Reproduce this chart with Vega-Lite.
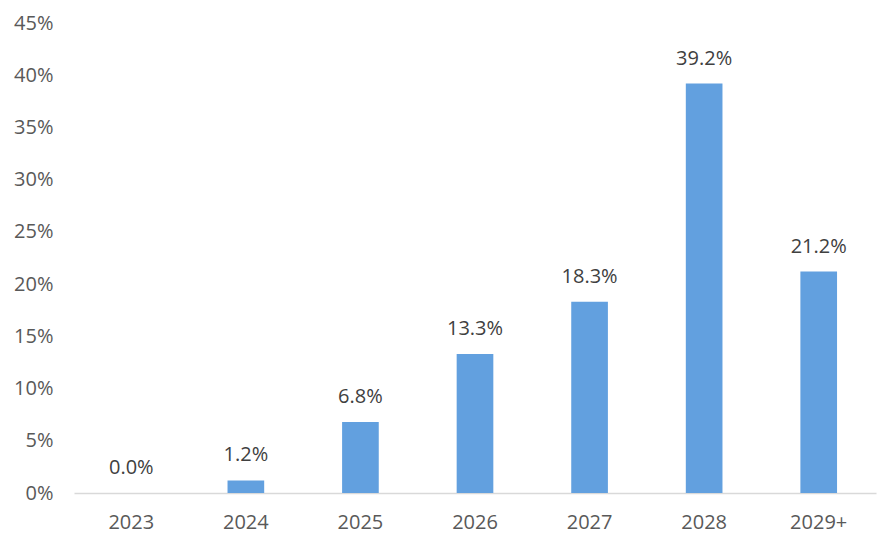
{
  "$schema": "https://vega.github.io/schema/vega-lite/v6.json",
  "width": 802,
  "height": 470,
  "autosize": {"type": "none"},
  "padding": {"left": 74, "top": 23, "right": 20, "bottom": 57},
  "background": "white",
  "config": {"view": {"stroke": null}, "font": "Open Sans"},
  "data": {"values": [
    {"year": "2023", "value": 0.0},
    {"year": "2024", "value": 0.012},
    {"year": "2025", "value": 0.068},
    {"year": "2026", "value": 0.133},
    {"year": "2027", "value": 0.183},
    {"year": "2028", "value": 0.392},
    {"year": "2029+", "value": 0.212}
  ]},
  "encoding": {
    "x": {"field": "year", "type": "nominal", "sort": null,
      "scale": {"paddingInner": 0.68, "paddingOuter": 0.34},
      "axis": {"title": null, "labelAngle": 0, "ticks": false, "domainColor": "#d9d9d9", "domainWidth": 1.5,
        "labelFontSize": 20, "labelColor": "#595959", "labelPadding": 19, "labelFont": "Open Sans"}},
    "y": {"field": "value", "type": "quantitative",
      "scale": {"domain": [0, 0.45]},
      "axis": {"title": null, "values": [0,0.05,0.1,0.15,0.2,0.25,0.3,0.35,0.4,0.45], "format": ".0%",
        "grid": false, "ticks": false, "domain": false, "labelFontSize": 20, "labelColor": "#595959", "labelPadding": 21, "labelFont": "Open Sans"}}
  },
  "layer": [
    {"mark": {"type": "bar", "color": "#62A0DF"}},
    {"mark": {"type": "text", "dy": -25, "fontSize": 20, "color": "#404040", "font": "Open Sans"},
      "encoding": {"text": {"field": "value", "type": "quantitative", "format": ".1%"}}}
  ]
}
